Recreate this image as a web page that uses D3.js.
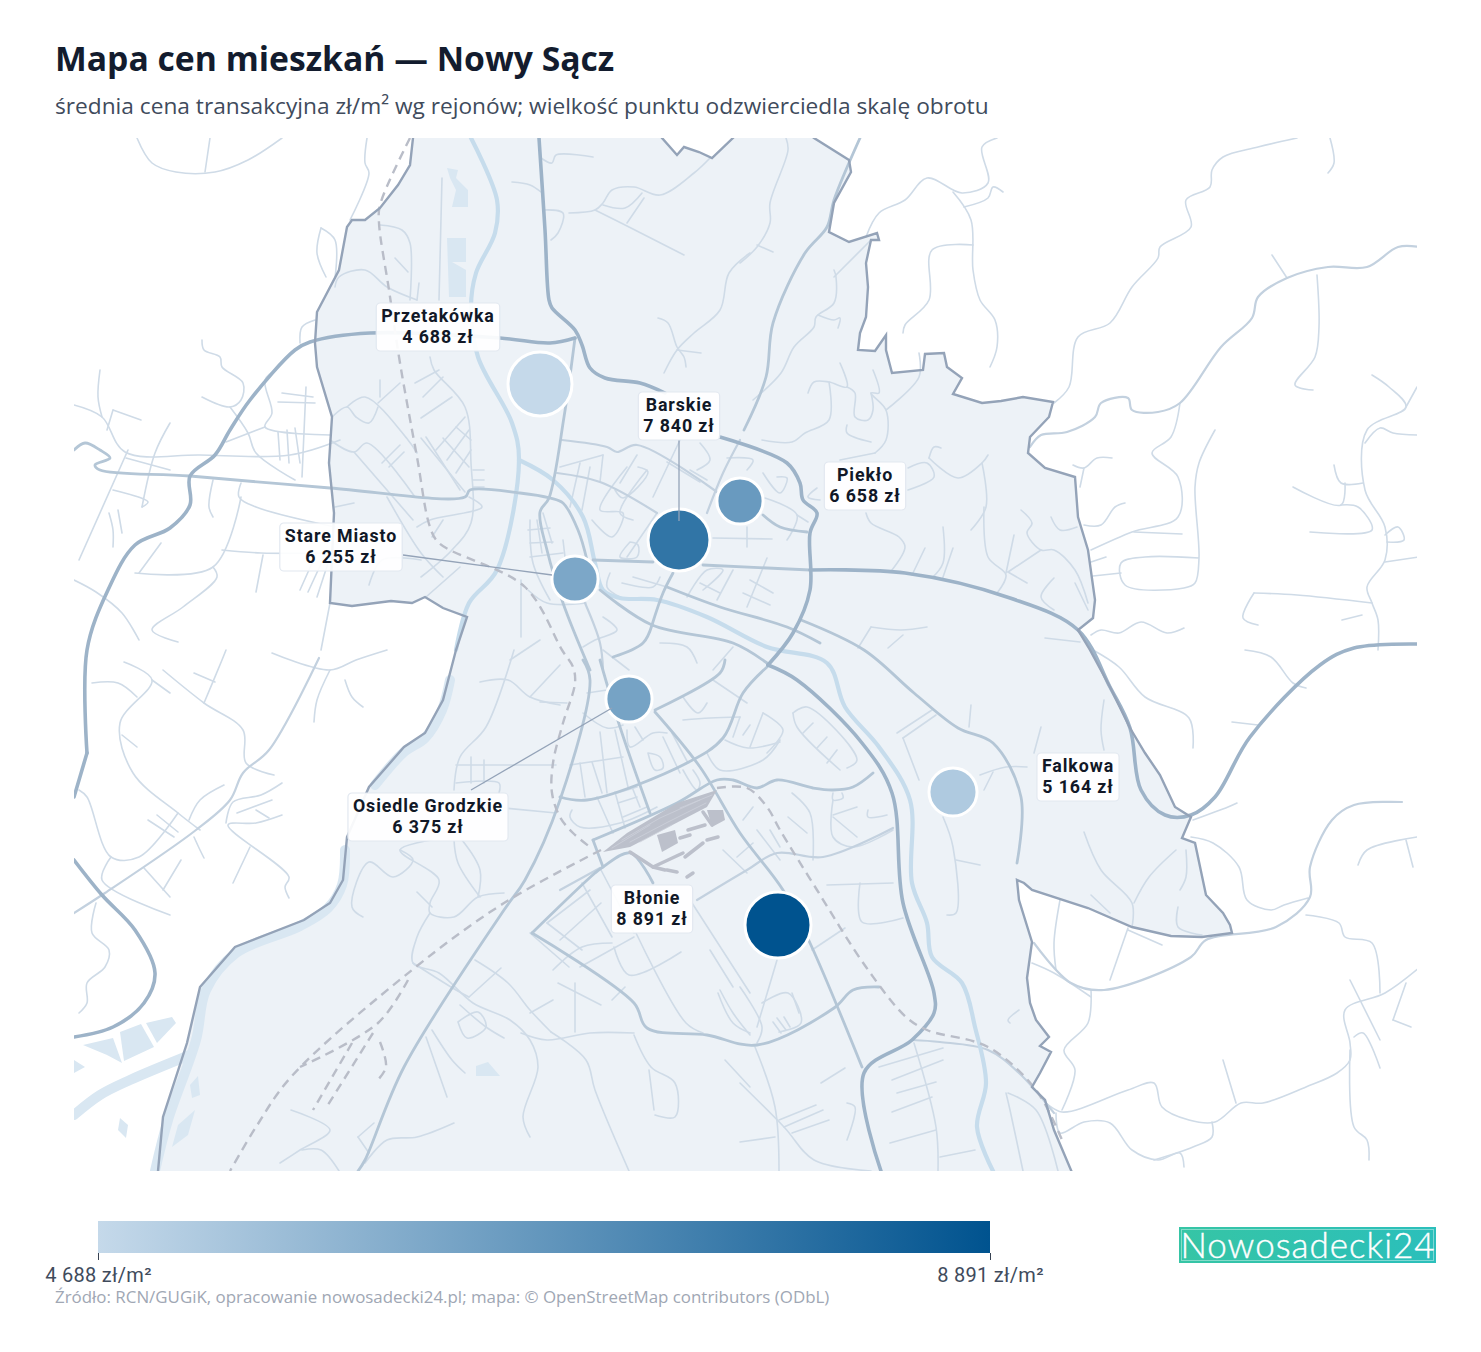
<!DOCTYPE html>
<html lang="pl">
<head>
<meta charset="utf-8">
<title>Mapa cen mieszkań — Nowy Sącz</title>
<script src="https://cdn.jsdelivr.net/npm/d3@7"></script>
<style>
  html, body { margin: 0; background: #fff; }
  text { font-family: "Open Sans", "Noto Sans", sans-serif; }
</style>
</head>
<body>
<div id="container"></div>
<script>
/* DATA: districts */
const districts = ["Przetakówka", "Barskie", "Piekło", "Stare Miasto", "Osiedle Grodzkie", "Błonie", "Falkowa"];
const prices = [4688, 7840, 6658, 6255, 6375, 8891, 5164];
const turnover = [94, 88, 49, 49, 49, 100, 53]; // scale of turnover
const districtX = [540, 679, 740, 575, 629, 778, 953];
const districtY = [384, 540, 501, 579, 699, 925, 792];
const legendTicks = [4688, 8891];

/* DATA: basemap, flat x,y lists in map units */
const cityArea = [413,128,413,138,410,165,398,185,380,208,365,220,352,220,347,227,339,270,317,312,315,343,317,367,332,417,329,463,334,513,330,603,352,606,391,601,412,603,425,597,443,608,467,617,456,650,443,700,425,733,404,747,369,787,347,837,343,880,330,903,304,920,235,947,200,987,187,1043,163,1117,157,1182,1076,1182,1054,1130,1045,1100,1032,1087,1040,1073,1051,1052,1040,1046,1049,1037,1036,1020,1030,1003,1027,978,1032,942,1019,900,1017,880,1024,883,1032,890,1088,908,1132,927,1171,936,1202,937,1232,933,1230,925,1223,913,1206,895,1195,843,1182,838,1191,817,1175,807,1160,775,1145,753,1130,728,1110,687,1090,650,1078,630,1093,618,1095,600,1088,550,1078,517,1075,477,1045,468,1028,453,1030,437,1049,417,1053,402,1023,397,1001,401,982,403,953,394,962,378,947,367,944,353,925,354,923,370,892,373,886,350,886,335,875,351,858,350,860,333,866,317,868,287,866,263,871,240,879,240,877,233,849,242,829,232,834,203,851,172,849,160,814,138,802,128,742,128,733,138,712,158,699,152,684,147,677,155,662,138,655,128];

const ponds = [
  [83,1045,113,1038,122,1063,107,1055],
  [120,1032,141,1024,154,1047,124,1061],
  [146,1023,172,1017,176,1023,157,1043],
  [74,1060,85,1067,74,1073],
  [447,168,458,170,456,178,468,190,468,207,452,207,456,190,450,178],
  [447,238,466,238,466,262,452,262,466,270,466,297,449,297],
  [476,1066,488,1062,500,1076,476,1076],
  [178,1125,195,1110,188,1135,172,1147],
  [120,1118,128,1125,126,1138,118,1130],
  [190,1085,198,1076,200,1095,192,1098]
];
const wideWater = [
  [345,850,342,885,328,908,300,926,236,953,206,990,196,1040,168,1120,155,1171],
  [190,1055,130,1080,100,1095,74,1115],
  [450,680,442,710,425,738,404,752,375,785]
];
const rivers = [
  [471,138,497,200,495,233,476,273,471,307,478,357,512,423,519,460,497,570,469,603,456,650],
  [519,460,553,480,583,517,595,563,603,590,620,598,657,600,707,617,767,647,827,663,845,707,879,747,910,800,912,883,927,923,932,957,962,983,975,1027,986,1083,977,1127,993,1171]
];

const mainRoads = [
  [539,138,545,230,549,300,552,308,575,330,582,345,590,368,605,378,640,383,665,393],
  [720,437,787,463,800,483,803,500,817,513,810,533,810,590,793,633,768,665],
  [87,753,87,650,108,590,135,545,170,528,190,505,190,476,215,455,230,430,250,400,295,350,310,342,370,333,500,338,550,343,575,338],
  [74,797,87,753],
  [810,570,905,573,1010,598,1078,630,1110,687,1130,728,1141,790,1165,815,1191,815,1215,797,1250,737,1320,665,1354,648,1417,644],
  [768,665,797,680,862,743,892,793,903,903,934,993,934,1013,912,1040,864,1073,881,1171],
  [74,860,102,895,135,930,155,973,144,1003,113,1027,74,1037]
];
const primaryRoads = [
  [74,450,85,443,100,450,110,458,95,465,100,470,190,476,330,488,465,497,470,490,520,493,550,498,563,503,578,530,587,560],
  [593,560,653,562],[703,565,810,570],
  [600,660,620,727,650,813],
  [560,797,587,800,687,763,723,738,743,693,767,667],
  [583,660,590,680,560,800,525,880,504,910,404,1067,365,1160,358,1171],
  [575,338,564,417,549,498,540,512,547,550,563,603,590,670],
  [600,590,652,625,733,643,767,663],
  [652,625,663,593,673,573],
  [652,625,643,643,613,657],
  [763,515,780,527,807,532],
  [860,138,834,200,827,227,805,253,773,323,766,377,744,430],
  [655,712,700,767,740,833,783,890,810,943,862,1067],
  [532,933,634,1003,647,1028,707,1035,757,1045,834,1008,853,990,879,987],
  [532,933,595,873,603,867,630,853,653,883],
  [801,620,864,650,914,693,958,728,993,743,1021,797,1017,863],
  [593,840,677,803,717,780,733,780,757,788,777,780,813,788,833,790,853,787,873,773],
  [593,840,603,867],
  [655,710,720,673,725,660],
  [667,587,720,607,787,627,820,643]
];
const secondaryRoads = [
  [319,658,269,750,243,773,230,800,196,830,105,893,74,913],
  [1402,802,1354,805,1332,820,1310,867,1310,897,1276,927,1206,940,1191,957,1104,990,1071,983,1034,943],
  [912,1040,940,1042,988,1050,1019,1073,1054,1113],
  [562,440,607,447,617,452,637,445,717,492],
  [557,473,600,482,657,513],
  [697,900,747,870,777,853,823,857,893,828],
  [560,890,600,868],
  [740,440,723,473,707,513],
  [585,603,600,643,603,670],
  [1419,247,1398,247,1367,267,1328,267,1287,278,1258,297,1252,318,1221,347,1180,403,1158,412,1132,410,1128,398,1101,403,1095,417,1067,432,1041,435,1030,447]
];
const streets = [
  [137,138,152,163,176,172,215,172,248,160,282,138],[210,138,205,172],[367,138,365,163,369,173,350,220],
  [202,340,204,350,220,357,222,367,243,383,241,400,230,407,202,397],[230,407,248,433,256,453,295,480],
  [100,370,98,397,102,417],[74,405,102,417,125,452,200,455,290,455,340,440],[113,410,141,420],[107,430,113,410],
  [170,423,155,453,142,507],[128,450,79,560],[282,393,313,397],[278,402,315,403],[306,387,302,477],
  [321,228,317,253,326,277],[321,228,335,240,335,278],[300,343,302,327,315,320],
  [276,370,265,380,272,413,265,427,330,435],[265,427,226,442],[287,430,289,463],[295,428,300,463],[278,432,280,460],
  [213,480,209,507,213,517],[241,483,239,497,256,507,335,527],[241,497,213,567,135,573],
  [213,567,217,577,183,607,152,630,178,642],[161,543,139,573],[222,550,261,553,335,553],
  [300,590,317,552],[308,592,326,553],[317,597,330,557],[256,592,263,555],[330,603,321,650],
  [74,580,96,592,122,613,139,640],[113,490,148,502,142,507],[109,513,113,530,113,547],[118,510,122,533],[126,458,170,470],
  [272,653,330,670,356,660,387,650],[330,670,317,700,314,722],[345,680,352,697,363,707],
  [124,662,152,680,120,723,133,773,178,813,200,830],[152,680,170,693],[163,670,204,703,243,730,246,763,274,775],
  [204,703,222,660,226,650],[194,673,215,682],[92,683,118,683,137,697],[122,735,137,747],
  [79,790,87,797,111,857,139,857,178,813],[111,857,102,880,170,915],[144,868,170,897],[224,785,200,800,189,820],
  [282,783,261,795,233,802,226,823],[282,815,256,823,228,825,289,877,285,887,289,898],[272,800,237,813],[256,810,269,818],
  [250,847,233,883],[148,820,174,837],[157,815,178,832],[194,837,200,850,204,858],[181,860,163,890],
  [96,903,92,933,109,950,105,967,87,983,87,1003,79,1013],
  [997,138,982,147,988,183,962,193,927,178,905,200,879,213,866,237],
  [953,192,971,220,973,270,980,300,995,320,997,347,990,367],[964,207,988,198,993,187,1003,192],
  [973,245,932,250,929,300,905,325,903,333],
  [1297,138,1258,147,1223,157,1212,170,1210,187,1186,200,1191,227,1160,247,1158,258,1132,287,1110,323,1078,337,1069,387,1054,403],
  [1330,138,1334,163,1328,173],[1272,255,1287,278],[1317,275,1319,327,1315,357,1295,385,1313,390],
  [1180,403,1171,437,1152,453,1178,477,1178,517,1132,532,1091,550],
  [1215,430,1199,463,1195,487,1199,558,1195,583,1184,588,1125,585,1121,563,1145,557,1199,558],
  [1121,573,1093,576],[1134,532,1182,534],[1091,562,1106,557],[1073,465,1084,468,1097,458,1112,458],[1084,468,1080,487],
  [1084,525,1101,525,1115,507,1125,503],
  [1372,375,1389,387,1406,407,1367,430,1365,490,1385,527,1385,560,1367,587,1372,603,1378,620,1378,650],
  [1417,387,1406,407],[1365,443,1380,428,1393,433,1419,435],[1334,465,1341,483,1363,483],
  [1345,483,1341,505,1293,487],[1341,505,1358,507,1372,530,1310,532],[1385,535,1398,527,1404,540,1387,542],[1385,562,1419,557],
  [1254,593,1243,618,1258,625],[1254,593,1297,595,1372,603],
  [1091,635,1101,630,1119,633,1141,622,1167,633,1184,628],[1245,650,1271,657,1293,683,1306,688],[1342,620,1362,615],
  [1093,650,1119,667,1145,697,1189,718,1193,748],[1232,722,1258,725],[1193,820,1228,807,1237,803],
  [1191,837,1213,843,1239,867,1247,900,1271,910,1284,905,1308,898],
  [1417,837,1367,850,1358,865],[1406,840,1413,867],[1306,915,1339,923,1345,937,1372,943,1380,993],
  [1420,967,1385,993,1345,1010,1350,1043,1350,1060,1337,1073,1306,1087,1263,1103,1241,1103,1215,1122,1189,1120,1162,1107,1154,1083,1128,1090,1062,1112,1045,1102],
  [1350,980,1380,1040],[1393,1020,1406,983],[1393,1020,1411,1027],[1354,1037,1363,1033,1380,1068],
  [1350,1050,1354,1127,1367,1140,1369,1160],[1223,1060,1236,1103],[1091,990,1088,1023,1064,1050,1075,1070,1062,1110],
  [1128,928,1110,980],[1128,930,1162,945],[1060,900,1054,943,1056,970],[1032,963,1054,973,1091,997],
  [1056,1113,1060,1133,1084,1122,1110,1123,1132,1150,1158,1160,1180,1153,1184,1167],[1212,1122,1212,1137,1193,1147,1154,1160],
  [971,705,969,727],[1041,727,1034,753],[1104,700,1101,730,1104,750],[980,775,1006,767,1027,767],[993,772,984,790],
  [943,817,953,847,956,913,947,915],[956,860,980,865],[1084,832,1101,870,1132,903,1132,927],[1176,850,1149,877,1134,903],
  [1186,850,1186,877,1180,890],[1091,895,1110,913],[1178,907,1178,927,1202,935],[1019,1010,1008,1020,1010,1023],
  [897,733,932,710],[903,738,936,715],[903,738,919,780],
  [827,885,893,883],[860,883,862,922,903,918],[792,793,810,813,813,860],[833,800,833,837,853,847,893,830],
  [833,793,833,800,843,798,842,793],[833,815,857,807],[833,817,857,837],[868,810,868,817,887,815],
  [753,807,743,820],[757,830,780,860],[770,830,780,847],[788,817,807,833],[723,850,747,873],[737,857,753,843],
  [707,753,720,770,763,760,780,740],[725,740,748,748,780,742],[740,717,733,737],[750,725,743,735],[763,713,750,747],
  [763,713,783,730,767,753],[793,713,807,707,857,760,847,768],[793,713,797,727,840,770],
  [813,723,803,733],[827,737,817,748],[837,750,827,763],
  [683,720,710,718,740,717],[683,697,698,713,707,703],[713,680,747,703],
  [627,730,630,747,653,733,667,733],[635,727,643,740],[648,753,655,770,663,768,660,757,648,753],
  [663,737,680,773],[672,733,688,763],[683,770,697,790,700,783,693,770],
  [583,713,607,728,623,725],[540,702,567,703],[587,693,607,690],[570,765,623,757],[580,763,585,797],[592,762,602,793],
  [600,732,607,793],[615,730,628,787],[572,810,570,817,580,827,620,823,657,807],
  [597,797,613,833],[615,792,625,828],[632,787,640,807],[617,793,637,787],[618,803,637,797],[623,817,647,807],
  [812,950,845,928],[762,1003,788,993,801,1023,779,1032],[773,1022,781,1033],[777,1018,786,1030],[784,1017,790,1027],[792,993,799,1013],
  [740,987,762,1027,757,1043],[777,960,766,997,757,1027],[755,1047,775,1107,779,1171],[740,1083,784,1127,814,1160,871,1171],
  [779,1120,816,1105],[784,1127,823,1110],[792,1133,829,1120],[740,1142,775,1137],[821,1083,845,1068],[847,1103,855,1107,847,1140],
  [914,1043,936,1127,938,1171],[879,1067,943,1048],[892,1080,943,1060],[897,1093,936,1082],[892,1112,932,1097],[890,1143,936,1130],
  [1008,1093,1036,1110,1058,1171],[1006,1093,1010,1110,1023,1171],[940,1157,975,1150],
  [480,682,508,680,530,697,560,705],[514,650,486,727,460,757,454,790],[456,765,556,765],[471,757,471,783],[484,760,484,783],
  [456,783,499,783,499,793],[504,808,556,813],[454,840,458,863,480,897],[462,840,480,870,478,897],
  [432,840,400,850,439,880,430,903,430,913,454,917,478,897,504,893],[400,850,413,860,393,877,369,862,352,907,363,917],[417,892,432,907],
  [430,913,417,937,413,963,439,973,473,1003,510,1020,530,1040,538,1067,523,1117,530,1137],[413,963,456,990,469,997],
  [475,960,508,983,530,1010,551,1032],[469,997,501,968],[530,1013,553,1000],[521,1033,547,1040,590,1033,634,1033],
  [551,1032,586,1060,595,1090,629,1171],[575,983,575,1032],[634,1035,651,1067,675,1083,675,1117,655,1115],[649,1070,654,1110],
  [460,1005,486,1027,504,1038],[458,1022,478,1012,486,1027,467,1038,458,1022],[432,1030,452,1060,465,1073],[426,1037,447,1097],
  [454,1123,417,1137,387,1140,365,1163],[358,1137,374,1123],[358,1137,369,1153],[291,1110,330,1130,300,1150,280,1163],
  [302,1150,321,1150,339,1171],[558,983,601,1005],[625,987,612,1000],[720,990,733,1013,750,1035],
  [614,947,629,975,681,952],[580,967,616,947,634,937],[553,970,582,947,612,943],[636,933,686,1023,703,1033],
  [692,903,750,993],[710,950,733,987],[718,993,733,1023,750,1033],[725,1060,750,1087],
  [547,923,590,890],[560,940,601,903],[530,933,569,967],[547,923,582,950],[582,883,612,937],[601,870,634,933],
  [415,383,439,370],[423,397,443,377],[421,418,452,397],[430,357,434,370,465,407,471,463,471,523,452,550,421,577],
  [347,407,365,397,408,440,417,453],[332,417,347,407,356,417,369,423,378,407],[378,403,400,383],[380,380,380,397],
  [330,440,354,452,367,443,415,497],[354,452,413,520],[382,463,400,445],[389,467,404,452],[421,438,465,492],[426,437,460,490],
  [436,450,465,417],[447,460,469,430],[456,473,471,450],[443,438,469,467],[456,427,471,440],[473,470,484,470],[473,480,484,480],[473,487,484,487],
  [469,497,482,507,430,520,417,527],[335,507,354,503],[387,497,421,553,443,577],[443,520,432,537],[369,585,382,560,421,560],[426,597,460,567],
  [335,287,339,277,365,270,387,287,417,300],[380,225,402,230,410,243,410,300],[395,258,408,272],[419,283,417,300],[442,178,439,300],
  [541,158,552,163,556,155,593,157],[512,182,530,185,541,192],[543,210,563,213,558,233,551,240],
  [569,213,595,210,603,203,612,190,634,187,660,195,694,173,710,158],[595,210,629,227,684,255],[603,205,625,208,642,193],[627,223,644,198],
  [750,253,729,273,720,310,694,333,677,350,664,373],[658,318,668,323,677,347,684,357,686,367],[677,350,701,353],
  [786,138,788,150,770,203,770,223,757,247,740,263],[757,245,773,252],
  [834,270,836,277,834,303,816,317,814,327,794,347,781,373,753,400],[871,240,834,277],[818,315,834,320,840,318,838,328],
  [840,363,847,387,829,382,814,382,808,393],[829,382,829,420,805,433,792,442,762,440],[847,387,855,393,855,417,868,420,873,410,871,393],
  [873,370,879,393,871,393,886,410,886,440,875,453],[919,353,919,377,886,410],[847,425,847,433,871,442],[875,453,840,460],
  [929,458,934,447,941,448],[908,468,927,463,934,477,908,490],[929,458,958,478,982,463,988,455],[982,463,986,507,971,530],
  [984,507,988,557,1006,575,997,593],[866,513,871,523,899,537,905,547,892,570],[925,548,912,575],[943,527,943,563,932,578],[953,548,942,580],
  [1021,510,1032,523,1027,533,1041,550,1054,550,1075,570,1088,603],[1008,572,1041,550],[1008,572,1027,583],[1014,535,1006,573],
  [1051,517,1060,530,1077,527],[1054,578,1041,597,1054,610],[1075,583,1088,610],[871,627,901,630,927,627],[858,648,871,627],[888,648,903,635],[1045,638,1080,642],
  [580,463,570,507],[590,467,582,510],[560,467,603,455],[603,455,600,482],[627,467,600,510,623,513,612,537,592,520],
  [647,470,620,513,633,520],[638,467,648,472,623,498,615,490],[637,455,620,483],[657,513,627,557],[630,542,620,557,637,557,638,545,630,542],
  [680,440,653,497],[667,462,700,482],[690,470,707,480],[700,443,710,460,697,470],[727,458,753,460,747,470],
  [763,473,780,493,787,478,777,477],[765,498,797,515,787,540],[713,538,772,539],[747,527,747,547],[797,515,808,522],[817,488,808,497,820,500],
  [610,573,607,587,620,597],[622,583,653,587,660,577],[633,577,667,587],[687,597,707,570,723,570,703,590],[700,583,720,593],
  [733,570,717,600],[743,593,770,605],[750,580,773,593],[767,558,747,607],
  [530,520,533,563,550,600],[537,520,542,553],[543,513,552,543],[528,530,550,528],[530,543,553,542],[530,557,563,553],[563,540,565,557],
  [603,617,617,630,595,640,583,647],[660,643,687,647,697,663],[713,670,733,647],[528,590,547,603,586,603],[521,580,521,637],[603,650,629,670],[560,665,530,697],[540,640,510,660]
];
const railLines = [
  [410,138,380,205,379,223,389,290,400,363,417,457,430,527,439,543,525,587,562,650,573,667,575,683,563,723,553,763,552,793,560,817,573,833,590,847],
  [601,850,504,903,412,970,291,1077,256,1127,230,1171],
  [717,788,747,788,767,807,780,830,817,890,866,967,906,1017,927,1030,988,1047,1036,1090,1062,1140],
  [408,980,378,1023,300,1067],[373,1033,326,1108],[352,1043,313,1110],[380,1042,386,1067,376,1082]
];
const industryBlocks = [
  [603,852,627,833,677,803,717,790,707,807,657,833,630,847],
  [657,835,675,830,678,843,662,852],
  [707,810,723,810,725,820,712,827]
];
const industryDashes = [
  [680,838,690,835],[688,830,705,825],[685,857,703,843],[707,840,718,837],
  [630,852,653,867,683,853],[653,867,665,870],[687,877,693,873],[667,870,677,872],[703,812,712,825]
];
const industryGaps = [
  [622,840,660,818,700,800],[630,842,668,822,706,803],[640,842,672,825],[612,848,650,825],[680,808,712,795]
];

/* LAYOUT */
const width = 1481, height = 1352;
const map = { x0: 74, x1: 1417, y0: 138, y1: 1171 };
// label boxes, centre x and top y, by district order
const labelCx = [438, 679, 865, 341, 428, 652, 1078];
const labelTop = [303, 392, 462, 523, 793, 885, 753];
// leader lines: [district index, start x, start y, end x, end y]
const leaders = [[1, 679, 440, 679, 521], [3, 403, 555, 552, 575], [4, 471, 790, 612, 708]];

const svg = d3.select("#container").append("svg")
  .attr("width", width)
  .attr("height", height)
  .style("display", "block");

/* TITLE */
svg.append("text").attr("x", 55).attr("y", 71)
  .attr("font-size", 33.7).attr("font-weight", 700).attr("fill", "#131c2e")
  .text("Mapa cen mieszkań — Nowy Sącz");
svg.append("text").attr("x", 55).attr("y", 114)
  .attr("font-size", 22.7).attr("fill", "#404b5c")
  .text("średnia cena transakcyjna zł/m² wg rejonów; wielkość punktu odzwierciedla skalę obrotu");

/* SCALES */
const xScale = d3.scaleLinear().domain([map.x0, map.x1]).range([map.x0, map.x1]);
const yScale = d3.scaleLinear().domain([map.y0, map.y1]).range([map.y0, map.y1]);
const colorScale = d3.scaleLinear().domain(legendTicks).range(["#c5d9ea", "#00538f"]);
const sizeScale = d3.scaleSqrt().domain([0, 100]).range([0, 33]);

const toPoints = flat => d3.range(0, flat.length, 2).map(i => [flat[i], flat[i + 1]]);
const sharp = d3.line().x(d => xScale(d[0])).y(d => yScale(d[1]));
const smooth = d3.line().x(d => xScale(d[0])).y(d => yScale(d[1])).curve(d3.curveCatmullRom.alpha(0.5));
const formatPrice = v => d3.format(",")(v).replace(",", " ");

/* BASEMAP */
svg.append("clipPath").attr("id", "map-clip").append("rect")
  .attr("x", map.x0).attr("y", map.y0)
  .attr("width", map.x1 - map.x0).attr("height", map.y1 - map.y0);
const base = svg.append("g").attr("clip-path", "url(#map-clip)");

base.append("path").attr("d", sharp(toPoints(cityArea)) + "Z").attr("fill", "#edf2f7");

function drawLines(list, line, color, strokeWidth, dash) {
  base.append("g").selectAll("path").data(list).join("path")
    .attr("d", d => line(toPoints(d)))
    .attr("fill", "none")
    .attr("stroke", color)
    .attr("stroke-width", strokeWidth)
    .attr("stroke-linejoin", "round")
    .attr("stroke-linecap", dash ? "butt" : "round")
    .attr("stroke-dasharray", dash || null);
}
function drawBlocks(list, color) {
  base.append("g").selectAll("path").data(list).join("path")
    .attr("d", d => sharp(toPoints(d)) + "Z")
    .attr("fill", color);
}

drawBlocks(ponds, "#d9e7f2");
drawLines(wideWater, smooth, "#d9e7f2", 10);
drawLines(streets, smooth, "#cfdbe7", 1.6);
drawLines(secondaryRoads, smooth, "#c3d1df", 2.2);
drawLines(rivers, smooth, "#c6dcec", 4.2);
drawLines(primaryRoads, smooth, "#b4c6d6", 2.8);
drawLines(mainRoads, smooth, "#9db3c8", 3.6);
drawBlocks(industryBlocks, "#bcc0cb");
drawLines(industryDashes, sharp, "#bcc0cb", 3.5);
drawLines(industryGaps, sharp, "#cdd1da", 0.8);
drawLines(railLines, smooth, "#b9bdc8", 2.4, "9,6");
base.append("path").attr("d", sharp(toPoints(cityArea)) + "Z")
  .attr("fill", "none").attr("stroke", "#94a3b8").attr("stroke-width", 2.4);

/* DOTS */
svg.append("g").selectAll("circle").data(districts).join("circle")
  .attr("cx", (d, i) => xScale(districtX[i]))
  .attr("cy", (d, i) => yScale(districtY[i]))
  .attr("r", (d, i) => sizeScale(turnover[i]))
  .attr("fill", (d, i) => colorScale(prices[i]))
  .attr("stroke", "#fff")
  .attr("stroke-width", 3);

/* LEADERS */
svg.append("g").selectAll("line").data(leaders).join("line")
  .attr("x1", d => xScale(d[1])).attr("y1", d => yScale(d[2]))
  .attr("x2", d => xScale(d[3])).attr("y2", d => yScale(d[4]))
  .attr("stroke", "#94a3b8")
  .attr("stroke-width", 1.3);

/* LABELS */
const labels = svg.append("g").selectAll("g").data(districts).join("g")
  .attr("transform", (d, i) => `translate(${labelCx[i]},${labelTop[i]})`);
const labelText = labels.append("text")
  .attr("text-anchor", "middle")
  .attr("font-size", 17.8)
  .attr("font-weight", 700)
  .attr("letter-spacing", 0.9)
  .attr("fill", "#111827")
  .style("font-family", "Roboto, sans-serif");
labelText.append("tspan").attr("x", 0).attr("y", 19).text(d => d);
labelText.append("tspan").attr("x", 0).attr("y", 40).text((d, i) => `${formatPrice(prices[i])} zł`);
labels.insert("rect", "text")
  .each(function() {
    const w = this.parentNode.querySelector("text").getBBox().width;
    d3.select(this).attr("x", -w / 2 - 5).attr("width", w + 10);
  })
  .attr("y", 0)
  .attr("height", 48)
  .attr("rx", 4)
  .attr("fill", "#fff")
  .attr("fill-opacity", 0.92)
  .attr("stroke", "#e2e8f0")
  .attr("stroke-width", 1.2);

/* LEGEND */
const legendScale = d3.scaleLinear().domain(legendTicks).range([98, 990]);
const grad = svg.append("linearGradient").attr("id", "price-grad");
grad.selectAll("stop").data(legendTicks).join("stop")
  .attr("offset", (d, i) => i * 100 + "%")
  .attr("stop-color", d => colorScale(d));
svg.append("rect")
  .attr("x", legendScale.range()[0]).attr("y", 1221)
  .attr("width", legendScale.range()[1] - legendScale.range()[0]).attr("height", 32)
  .attr("fill", "url(#price-grad)");
const legendAxis = svg.append("g")
  .attr("transform", "translate(0,1253)")
  .call(d3.axisBottom(legendScale).tickValues(legendTicks).tickSize(7).tickPadding(8)
    .tickFormat(d => `${formatPrice(d)} zł/m²`));
legendAxis.select(".domain").remove();
legendAxis.selectAll("line").attr("stroke", "#374151");
legendAxis.selectAll("text").attr("font-size", 20).attr("letter-spacing", 0.3).attr("fill", "#404b5c")
  .style("font-family", "Roboto, sans-serif");

/* SOURCE */
svg.append("text").attr("x", 55).attr("y", 1303)
  .attr("font-size", 16.9).attr("fill", "#a0a7b4")
  .text("Źródło: RCN/GUGiK, opracowanie nowosadecki24.pl; mapa: © OpenStreetMap contributors (ODbL)");

/* LOGO */
const logoGrad = svg.append("linearGradient").attr("id", "logo-grad");
logoGrad.append("stop").attr("offset", "0%").attr("stop-color", "#36c5a5");
logoGrad.append("stop").attr("offset", "100%").attr("stop-color", "#2bbfbb");
svg.append("rect").attr("x", 1179).attr("y", 1227).attr("width", 257).attr("height", 36).attr("fill", "url(#logo-grad)");
svg.append("rect").attr("x", 1181.5).attr("y", 1229.5).attr("width", 252).attr("height", 31)
  .attr("fill", "none").attr("stroke", "#fff").attr("stroke-opacity", 0.4);
svg.append("text").attr("x", 1308).attr("y", 1257.5).attr("text-anchor", "middle")
  .attr("font-size", 35).attr("font-weight", 300).attr("letter-spacing", 1).attr("fill", "#fff")
  .attr("stroke", "#fff").attr("stroke-width", 0.4)
  .style("font-family", "Lato, sans-serif")
  .text("Nowosadecki24");
</script>
</body>
</html>
